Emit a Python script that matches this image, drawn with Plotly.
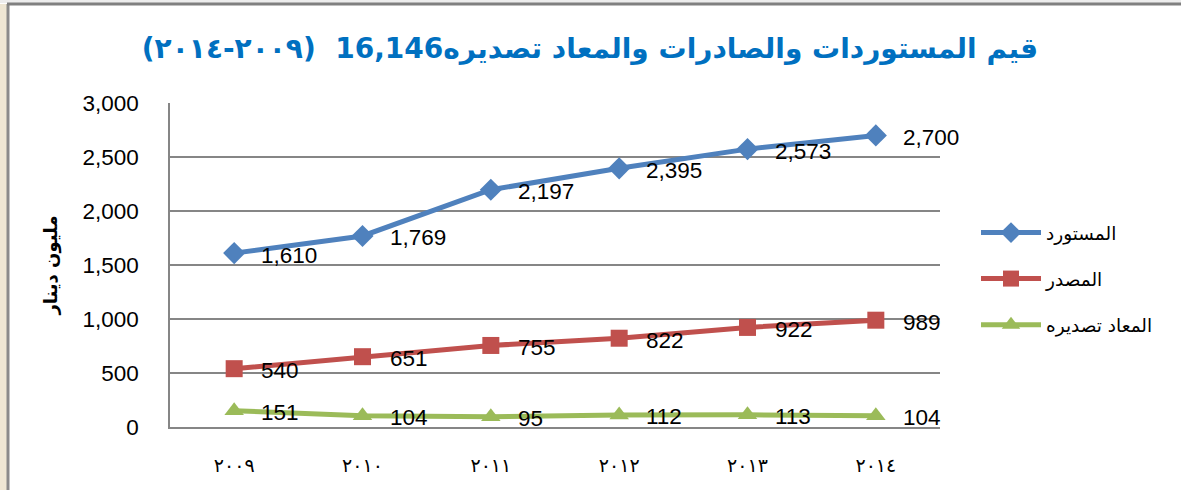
import plotly.graph_objects as go

years = ["٢٠٠٩", "٢٠١٠", "٢٠١١", "٢٠١٢", "٢٠١٣", "٢٠١٤"]
imports = [1610, 1769, 2197, 2395, 2573, 2700]
exports = [540, 651, 755, 822, 922, 989]
reexports = [151, 104, 95, 112, 113, 104]
series_names = ["المستورد", "المصدر", "المعاد تصديره"]
title_text = "قيم المستوردات والصادرات والمعاد تصديره16,146  (٢٠٠٩-٢٠١٤)"
y_title = "مليون دينار"

colors = ["#4F81BD", "#C0504D", "#9BBB59"]
symbols = ["diamond", "square", "triangle-up"]
xs = list(range(len(years)))

# plot-area pixel geometry
L, R, T, B = 170, 940, 103, 427
W, H = 1181, 490

fig = go.Figure()
for i, (vals, name) in enumerate(zip([imports, exports, reexports], series_names)):
    fig.add_trace(go.Scatter(
        x=xs, y=vals, name=name, mode="lines+markers",
        line=dict(color=colors[i], width=5),
        marker=dict(symbol=symbols[i], size=17, color=colors[i]),
        legendgroup=str(i), hoverinfo="skip",
    ))
    for xv, yv in zip(xs, vals):
        fig.add_annotation(
            x=xv, y=yv, text=f"{yv:,}", showarrow=False,
            xanchor="left", yanchor="middle", xshift=25, yshift=-2,
            font=dict(family="Liberation Sans, Arial", size=22.5, color="#000000"),
        )

def px(xp):
    return (xp - L) / (R - L)

def py(yp):
    return (B - yp) / (B - T)

shapes = [
    dict(type="rect", xref="paper", yref="paper", x0=px(0), x1=px(7), y0=py(H), y1=py(4),
         fillcolor="#EEE6D3", line=dict(width=0), layer="below"),
    dict(type="rect", xref="paper", yref="paper", x0=px(0), x1=px(W), y0=py(3), y1=py(0),
         fillcolor="#EDEDED", line=dict(width=0), layer="below"),
    dict(type="line", xref="paper", yref="paper", x0=px(8), x1=px(8), y0=py(H), y1=py(4),
         line=dict(color="#8A8A8A", width=3)),
    dict(type="line", xref="paper", yref="paper", x0=px(7), x1=px(W), y0=py(4), y1=py(4),
         line=dict(color="#808080", width=3)),
]

fig.update_layout(
    width=W, height=H,
    margin=dict(l=L, r=W - R, t=T, b=H - B),
    paper_bgcolor="#FFFFFF", plot_bgcolor="#FFFFFF",
    title=dict(text=title_text, x=590 / W, xanchor="center", y=1 - 48 / H, yanchor="middle",
               font=dict(family="DejaVu Sans", size=28, color="#0070C0", weight="bold")),
    showlegend=True,
    legend=dict(x=px(976), y=py(214), xanchor="left", yanchor="top",
                traceorder="grouped", tracegroupgap=19, itemwidth=60,
                font=dict(family="DejaVu Sans", size=18.5, color="#000000"),
                bgcolor="rgba(0,0,0,0)"),
    shapes=shapes,
    xaxis=dict(range=[-0.5, len(years) - 0.5], tickvals=xs, ticktext=years,
               showgrid=False, showline=True, linecolor="#868686", linewidth=1.5,
               ticks="", ticklabelstandoff=20, zeroline=False, fixedrange=True,
               tickfont=dict(family="DejaVu Sans", size=19, color="#000000")),
    yaxis=dict(range=[0, 3000], dtick=500, tickformat=",d",
               showgrid=True, gridcolor="#868686", gridwidth=1.5,
               showline=True, linecolor="#868686", linewidth=1.5,
               ticks="", ticklabelstandoff=25, zeroline=False,
               tickfont=dict(family="Liberation Sans, Arial", size=22.5, color="#000000"),
               title=dict(text=y_title, standoff=20,
                          font=dict(family="DejaVu Sans", size=18, color="#000000", weight="bold"))),
)

fig.write_html("out.html")
